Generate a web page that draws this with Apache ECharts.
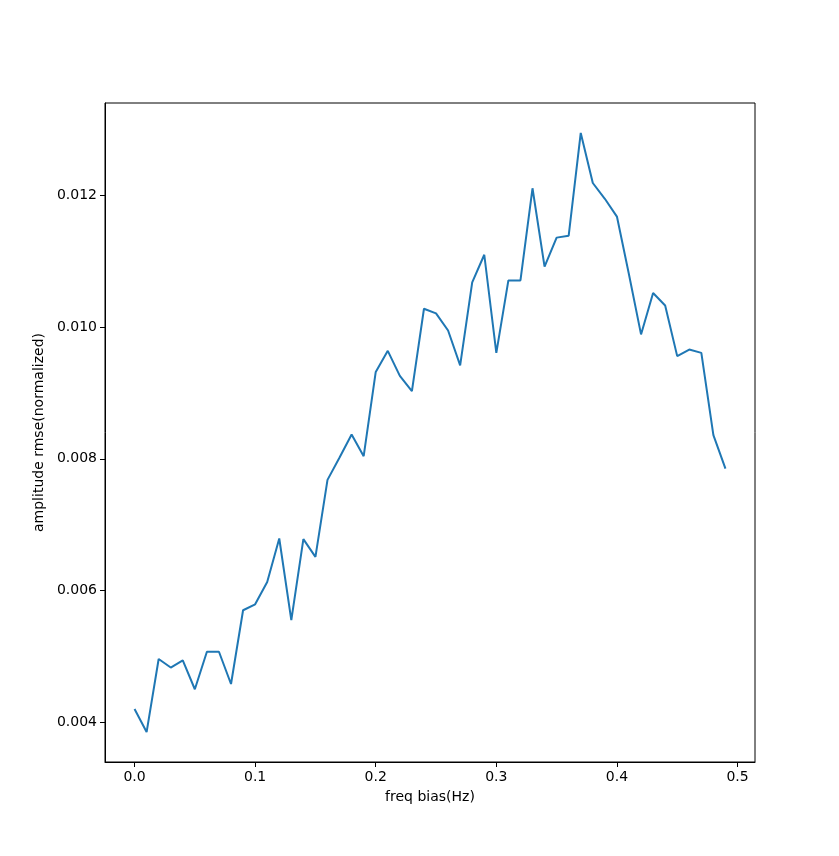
<!DOCTYPE html>
<html>
<head>
<meta charset="utf-8">
<title>amplitude rmse vs freq bias</title>
<script src="https://cdn.jsdelivr.net/npm/echarts@6/dist/echarts.min.js"></script>
<style>
  html, body { margin: 0; padding: 0; background: #fff; }
  #chart { width: 839px; height: 856px; }
</style>
</head>
<body>
<div id="chart"></div>
<script>
// x values (Hz)
const freqBias = [
  0.00, 0.01, 0.02, 0.03, 0.04, 0.05, 0.06, 0.07, 0.08, 0.09,
  0.10, 0.11, 0.12, 0.13, 0.14, 0.15, 0.16, 0.17, 0.18, 0.19,
  0.20, 0.21, 0.22, 0.23, 0.24, 0.25, 0.26, 0.27, 0.28, 0.29,
  0.30, 0.31, 0.32, 0.33, 0.34, 0.35, 0.36, 0.37, 0.38, 0.39,
  0.40, 0.41, 0.42, 0.43, 0.44, 0.45, 0.46, 0.47, 0.48, 0.49
];
// normalized amplitude rmse
const ampRmse = [
  0.00420, 0.00385, 0.00496, 0.00483, 0.00494, 0.00450, 0.00507, 0.00507, 0.00458, 0.00570,
  0.00579, 0.00613, 0.00679, 0.00555, 0.00678, 0.00651, 0.00768, 0.00802, 0.00837, 0.00804,
  0.00932, 0.00964, 0.00926, 0.00903, 0.01028, 0.01021, 0.00995, 0.00942, 0.01068, 0.01110,
  0.00961, 0.01071, 0.01071, 0.01211, 0.01092, 0.01136, 0.01139, 0.01295, 0.01219, 0.01195,
  0.01168, 0.01080, 0.00989, 0.01052, 0.01033, 0.00956, 0.00966, 0.00961, 0.00836, 0.00785
];
const xTicks = [0.0, 0.1, 0.2, 0.3, 0.4, 0.5];
const yTicks = [0.004, 0.006, 0.008, 0.010, 0.012];

const chart = echarts.init(document.getElementById('chart'));

// matplotlib-like 5% margins
const xMin = Math.min(...freqBias), xMax = Math.max(...freqBias);
const yMin = Math.min(...ampRmse), yMax = Math.max(...ampRmse);
const xPad = (xMax - xMin) * 0.05, yPad = (yMax - yMin) * 0.05;

const font = 'DejaVu Sans';

const options = {
  backgroundColor: '#fff',
  animation: false,
  textStyle: { fontFamily: font },
  grid: {
    left: 105, right: 84, top: 103, bottom: 94,
    show: true, borderColor: '#000', borderWidth: 1, backgroundColor: 'transparent'
  },
  xAxis: {
    type: 'value',
    min: xMin - xPad,
    max: xMax + xPad,
    name: 'freq bias(Hz)',
    nameLocation: 'middle',
    nameGap: 28,
    nameTextStyle: { color: '#000', fontSize: 14, fontFamily: font },
    axisLine: { show: true, onZero: false, lineStyle: { color: '#000', width: 1 } },
    axisTick: { show: true, length: 5, customValues: xTicks, lineStyle: { color: '#000' } },
    axisLabel: {
      color: '#000', fontSize: 14, fontFamily: font, margin: 8,
      customValues: xTicks,
      formatter: v => v.toFixed(1)
    },
    splitLine: { show: false }
  },
  yAxis: {
    type: 'value',
    min: yMin - yPad,
    max: yMax + yPad,
    name: 'amplitude rmse(normalized)',
    nameLocation: 'middle',
    nameGap: 53,
    nameTextStyle: { color: '#000', fontSize: 14, fontFamily: font },
    axisLine: { show: true, onZero: false, lineStyle: { color: '#000', width: 1 } },
    axisTick: { show: true, length: 5, customValues: yTicks, lineStyle: { color: '#000' } },
    axisLabel: {
      color: '#000', fontSize: 14, fontFamily: font, margin: 8,
      customValues: yTicks,
      formatter: v => v.toFixed(3)
    },
    splitLine: { show: false }
  },
  series: [
    {
      type: 'line',
      data: freqBias.map((x, i) => [x, ampRmse[i]]),
      showSymbol: false,
      clip: true,
      lineStyle: { color: '#1f77b4', width: 2 },
      itemStyle: { color: '#1f77b4' }
    }
  ]
};

chart.setOption(options);
window.addEventListener('resize', () => {
  chart.resize();
});
</script>
</body>
</html>
